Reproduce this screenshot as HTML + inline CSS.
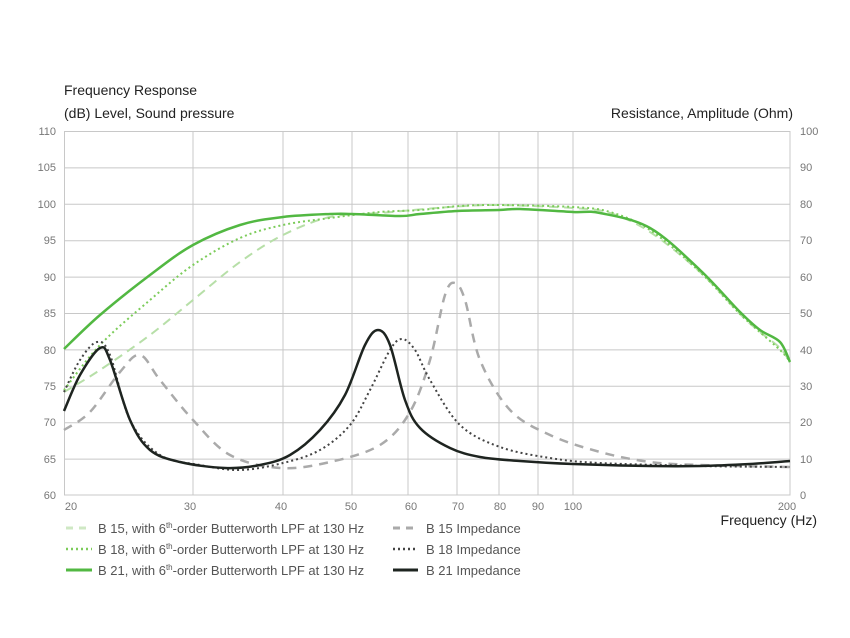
<!DOCTYPE html>
<html><head><meta charset="utf-8"><style>
body{margin:0;background:#fff;width:850px;height:638px;overflow:hidden}
svg{display:block;font-family:"Liberation Sans",sans-serif}
</style></head><body>
<svg id="c" width="850" height="638" viewBox="0 0 850 638">
<g stroke="#c8c8c8" stroke-width="1" fill="none">
<rect x="64.5" y="131.5" width="725.5" height="363.5"/>
<path d="M64 167.9H790M64 204.3H790M64 240.7H790M64 277.1H790M64 313.5H790M64 349.9H790M64 386.3H790M64 422.7H790M64 459.1H790"/>
<path d="M193 131V495M283 131V495M352 131V495M408 131V495M457 131V495M499 131V495M538 131V495M573 131V495"/>
</g>
<g font-size="11" fill="#777" text-anchor="end">
<text x="56" y="135">110</text><text x="56" y="171">105</text><text x="56" y="208">100</text><text x="56" y="244">95</text><text x="56" y="281">90</text><text x="56" y="317">85</text><text x="56" y="354">80</text><text x="56" y="390">75</text><text x="56" y="426">70</text><text x="56" y="463">65</text><text x="56" y="499">60</text>
</g>
<g font-size="11" fill="#777">
<text x="800" y="135">100</text><text x="800" y="171">90</text><text x="800" y="208">80</text><text x="800" y="244">70</text><text x="800" y="281">60</text><text x="800" y="317">50</text><text x="800" y="354">40</text><text x="800" y="390">30</text><text x="800" y="426">20</text><text x="800" y="463">10</text><text x="800" y="499">0</text>
</g>
<g font-size="11" fill="#777" text-anchor="middle">
<text x="71" y="510">20</text><text x="190" y="510">30</text><text x="281" y="510">40</text><text x="351" y="510">50</text><text x="411" y="510">60</text><text x="458" y="510">70</text><text x="500" y="510">80</text><text x="538" y="510">90</text><text x="573" y="510">100</text><text x="787" y="510">200</text>
</g>
<g font-size="14" fill="#222">
<text x="64" y="95">Frequency Response</text>
<text x="64" y="118">(dB) Level, Sound pressure</text>
<text x="793" y="118" text-anchor="end">Resistance, Amplitude (Ohm)</text>
<text x="817" y="525" text-anchor="end">Frequency (Hz)</text>
</g>
<g fill="none" stroke-linejoin="round" stroke-linecap="butt">
<polyline class="s" stroke="#b7dfa8" stroke-width="2" stroke-dasharray="9,6" points="64,392 100,370 150,335 193,300 240,262 283,235 330,217 380,213 450,207 499,205 573,208 610,213 650,232 700,272 740,314 760,332 780,348 790,362"/>
<polyline class="s" stroke="#7ccc5a" stroke-width="2" stroke-dasharray="2,3" points="64,390 100,345 150,300 193,265 240,238 283,225 330,218 380,212 420,210 460,206 499,205 573,207 610,212 650,230 700,272 740,314 780,350 790,362"/>
<polyline class="s" stroke="#52b842" stroke-width="2.5" points="64,349 100,315 150,275 193,245 240,225 283,217 330,214 352,214 400,216 420,214 457,211 499,210 520,209 573,212 600,213 650,228 700,270 740,312 760,330 780,342 790,362"/>
<polyline class="s" stroke="#aaa" stroke-width="2.5" stroke-dasharray="9,7" points="64,430 90,412 120,372 140,355 160,380 193,420 230,455 280,468 330,462 380,445 410,412 430,360 445,295 455,283 465,300 480,360 510,410 550,435 600,452 650,462 700,465 790,467"/>
<polyline class="s" stroke="#444" stroke-width="2" stroke-dasharray="2,3" points="64,392 80,360 97,342 110,355 130,420 160,455 200,465 240,470 283,463 320,450 350,425 370,390 390,350 402,339 415,350 430,380 460,425 500,447 550,458 600,463 700,466 790,467"/>
<polyline class="s" stroke="#1e2420" stroke-width="2.5" points="64,411 80,375 100,348 110,360 130,420 150,450 180,462 225,468 260,465 290,455 320,430 345,395 365,345 378,330 390,345 405,400 420,428 450,448 480,457 520,461 573,464 650,466 700,466 750,464 790,461"/>
</g>
<g fill="none">
<line x1="66" y1="528" x2="92" y2="528" stroke="#cfe8c4" stroke-width="3" stroke-dasharray="7,6"/>
<line x1="66" y1="549" x2="92" y2="549" stroke="#7ccc5a" stroke-width="2.5" stroke-dasharray="2,3"/>
<line x1="66" y1="570" x2="92" y2="570" stroke="#52b842" stroke-width="3"/>
<line x1="393" y1="528" x2="418" y2="528" stroke="#aaa" stroke-width="3" stroke-dasharray="7,6"/>
<line x1="393" y1="549" x2="418" y2="549" stroke="#444" stroke-width="2.5" stroke-dasharray="2,3"/>
<line x1="393" y1="570" x2="418" y2="570" stroke="#1e2420" stroke-width="3"/>
</g>
<g font-size="13" fill="#555">
<text x="98" y="533">B 15, with 6<tspan font-size="8" dy="-5">th</tspan><tspan dy="5">-order Butterworth LPF at 130 Hz</tspan></text>
<text x="98" y="554">B 18, with 6<tspan font-size="8" dy="-5">th</tspan><tspan dy="5">-order Butterworth LPF at 130 Hz</tspan></text>
<text x="98" y="575">B 21, with 6<tspan font-size="8" dy="-5">th</tspan><tspan dy="5">-order Butterworth LPF at 130 Hz</tspan></text>
<text x="426" y="533">B 15 Impedance</text>
<text x="426" y="554">B 18 Impedance</text>
<text x="426" y="575">B 21 Impedance</text>
</g>
</svg>
<script>
document.querySelectorAll('polyline.s').forEach(function(pl){
  var p=pl.getAttribute('points').trim().split(/\s+/).map(function(s){return s.split(',').map(Number);});
  var d='M'+p[0][0]+' '+p[0][1];
  for(var i=0;i<p.length-1;i++){
    var p0=p[i-1]||p[i],p1=p[i],p2=p[i+1],p3=p[i+2]||p2;
    var c1x=p1[0]+(p2[0]-p0[0])/6,c1y=p1[1]+(p2[1]-p0[1])/6;
    var c2x=p2[0]-(p3[0]-p1[0])/6,c2y=p2[1]-(p3[1]-p1[1])/6;
    d+=' C'+c1x.toFixed(1)+' '+c1y.toFixed(1)+' '+c2x.toFixed(1)+' '+c2y.toFixed(1)+' '+p2[0]+' '+p2[1];
  }
  var path=document.createElementNS('http://www.w3.org/2000/svg','path');
  ['stroke','stroke-width','stroke-dasharray'].forEach(function(a){if(pl.getAttribute(a))path.setAttribute(a,pl.getAttribute(a));});
  path.setAttribute('d',d);
  pl.parentNode.replaceChild(path,pl);
});
</script>
</body></html>
